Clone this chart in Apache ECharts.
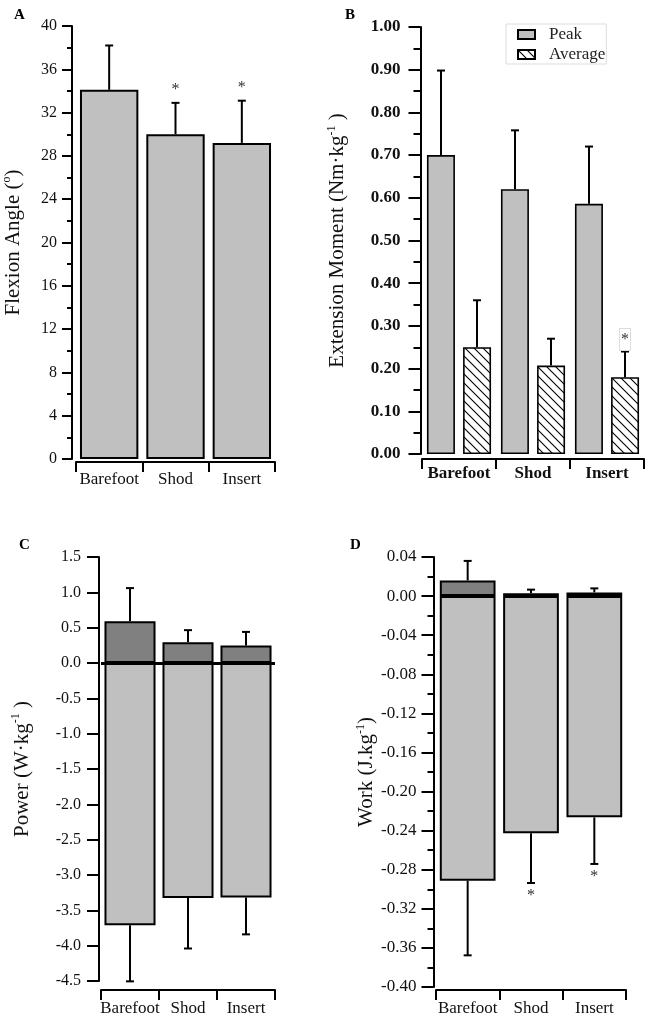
<!DOCTYPE html>
<html><head><meta charset="utf-8">
<script src="https://cdn.jsdelivr.net/npm/echarts@6/dist/echarts.min.js"></script>
<style>html,body{margin:0;padding:0;background:#fff}#c{width:648px;height:1017px}</style>
</head><body><div id="c"></div>
<script>
// ---------- data ----------
const categories = ['Barefoot', 'Shod', 'Insert'];

// A: flexion angle (deg)
const flexionMean = [34.1, 30.0, 29.2];
const flexionSD   = [4.1, 2.9, 3.9];
const flexionSig  = [0, 1, 1];
const flexionAxis = { min: 0, max: 40, interval: 4 };

// B: extension moment (Nm/kg)
const peakMean = [0.70, 0.62, 0.586];
const peakSD   = [0.198, 0.138, 0.134];
const avgMean  = [0.25, 0.207, 0.18];
const avgSD    = [0.11, 0.063, 0.06];
const avgSig   = [0, 0, 1];
const momentAxis = { min: 0, max: 1, interval: 0.1 };

// C: power (W/kg)
const powerPosMean = [0.59, 0.295, 0.247];
const powerPosSD   = [0.47, 0.17, 0.193];
const powerNegMean = [-3.71, -3.325, -3.32];
const powerNegSD   = [0.795, 0.715, 0.52];
const powerAxis = { min: -4.5, max: 1.5, interval: 0.5 };

// D: work (J/kg)
const workPosMean = [0.016, 0.003, 0.0038];
const workPosSD   = [0.020, 0.0036, 0.0041];
const workNegMean = [-0.2912, -0.2428, -0.2264];
const workNegSD   = [0.0764, 0.0508, 0.0477];
const workSig     = [0, 1, 1];
const workAxis = { min: -0.4, max: 0.04, interval: 0.04 };

// ---------- styles ----------
const SERIF = '"Liberation Serif", "Times New Roman", serif';
const INK = '#111';
const LIGHT = '#c0c0c0';
const DARK = '#808080';

function hatch() {
  const s = 9;
  const c = document.createElement('canvas');
  c.width = s; c.height = s;
  const g = c.getContext('2d');
  g.fillStyle = '#fff'; g.fillRect(0, 0, s, s);
  g.strokeStyle = '#000'; g.lineWidth = 1.1;
  g.beginPath();
  g.moveTo(-1, -1); g.lineTo(s + 1, s + 1);
  g.moveTo(-1, s - 1); g.lineTo(1, s + 1);
  g.moveTo(s - 1, -1); g.lineTo(s + 1, 1);
  g.stroke();
  return c;
}

function errData(mean, sd, dir, sig) {
  return mean.map((m, i) => [i, m, m + dir * sd[i], sig ? sig[i] : 0]);
}

function errRender(xOff, starDir, boxed) {
  return function (params, api) {
    const i = api.value(0);
    const p0 = api.coord([i, api.value(1)]);
    const p1 = api.coord([i, api.value(2)]);
    const x = p0[0] + xOff;
    const ls = { stroke: '#000', lineWidth: 2 };
    const children = [
      { type: 'line', shape: { x1: x, y1: p0[1], x2: x, y2: p1[1] }, style: ls },
      { type: 'line', shape: { x1: x - 4, y1: p1[1], x2: x + 4, y2: p1[1] }, style: ls }
    ];
    if (api.value(3)) {
      const st = { text: '*', fill: '#333', font: '16px ' + SERIF, align: 'center', verticalAlign: 'middle' };
      if (boxed) {
        st.backgroundColor = '#fff'; st.borderColor = '#ddd'; st.borderWidth = 1; st.padding = [4, 1, 1, 1];
      }
      children.push({ type: 'text', x: x, y: p1[1] + starDir * (boxed ? 12 : 13), style: st });
    }
    return { type: 'group', children };
  };
}

function catAxis(grid, offset, labelMargin, bold) {
  return {
    type: 'category', gridIndex: grid, data: categories, offset: offset,
    axisLine: { show: true, onZero: false, lineStyle: { color: '#000', width: 2 } },
    axisTick: { show: true, length: 10, lineStyle: { color: '#000', width: 2 } },
    axisLabel: { interval: 0, margin: labelMargin, color: INK, fontFamily: SERIF,
                 fontSize: 17, fontWeight: bold ? 'bold' : 'normal' },
    splitLine: { show: false }
  };
}

function valAxis(grid, ax, o) {
  return {
    type: 'value', gridIndex: grid, min: ax.min, max: ax.max, interval: ax.interval,
    offset: o.offset,
    name: o.name, nameLocation: 'middle', nameGap: o.nameGap,
    nameTextStyle: {
      fontFamily: SERIF, fontSize: 21, color: INK,
      rich: {
        n: { fontFamily: SERIF, fontSize: 21, color: INK, lineHeight: 24 },
        s: { fontFamily: SERIF, fontSize: 12, color: INK, lineHeight: 10, verticalAlign: 'top' }
      }
    },
    axisLine: { show: true, lineStyle: { color: '#000', width: 2 } },
    axisTick: { show: true, length: o.tick, lineStyle: { color: '#000', width: 2 } },
    minorTick: { show: !!o.minor, splitNumber: 2, length: o.minor || 0, lineStyle: { color: '#000', width: 2 } },
    axisLabel: { margin: o.margin, color: INK, fontFamily: SERIF, fontSize: o.fontSize,
                 fontWeight: o.bold ? 'bold' : 'normal', formatter: o.fmt },
    splitLine: { show: false }, minorSplitLine: { show: false }
  };
}

const barBase = { type: 'bar', z: 2 };

const option = {
  backgroundColor: '#fff',
  animation: false,
  title: [
    { text: 'A', left: 9, top: 3 },
    { text: 'B', left: 340, top: 3 },
    { text: 'C', left: 14, top: 533 },
    { text: 'D', left: 345, top: 533 }
  ].map(t => Object.assign(t, { textStyle: { fontFamily: SERIF, fontSize: 15, fontWeight: 'bold', color: '#000' } })),
  legend: {
    data: ['Peak', 'Average'], orient: 'vertical', left: 506, top: 24,
    icon: 'rect', itemWidth: 17, itemHeight: 9, itemGap: 3,
    borderColor: '#ddd', borderWidth: 1, padding: [2, 1, 1, 11],
    textStyle: { fontFamily: SERIF, fontSize: 17, color: '#222', padding: [0, 0, 0, 9] }
  },
  grid: [
    { left: 76, top: 26, width: 199, height: 433 },
    { left: 422, top: 27, width: 222, height: 427 },
    { left: 101, top: 557, width: 174, height: 424 },
    { left: 436, top: 557, width: 190, height: 430 }
  ].map(g => Object.assign(g, { containLabel: false, outerBoundsMode: 'none' })),
  xAxis: [
    catAxis(0, 3, 9, false),
    catAxis(1, 5, 6, true),
    catAxis(2, 9, 10, false),
    catAxis(3, 3, 10, false)
  ],
  yAxis: [
    valAxis(0, flexionAxis, { offset: 4, nameGap: 47, tick: 10, minor: 5, margin: 15, fontSize: 16,
      name: '{n|Flexion Angle (}{s|o}{n|)}', fmt: v => String(v) }),
    valAxis(1, momentAxis, { offset: 1.5, nameGap: 71, tick: 12, minor: 7, margin: 20, fontSize: 17, bold: true,
      name: '{n|Extension Moment (Nm·kg}{s|-1}{n| )}', fmt: v => v.toFixed(2) }),
    valAxis(2, powerAxis, { offset: 2, nameGap: 65, tick: 12, minor: 0, margin: 18, fontSize: 16,
      name: '{n|Power (W·kg}{s|-1}{n| )}', fmt: v => v.toFixed(1) }),
    valAxis(3, workAxis, { offset: 2.5, nameGap: 54, tick: 12, minor: 6, margin: 17, fontSize: 17,
      name: '{n|Work (J.kg}{s|-1}{n|)}', fmt: v => v.toFixed(2) })
  ],
  series: [
    // A
    Object.assign({}, barBase, { name: 'Flexion', xAxisIndex: 0, yAxisIndex: 0, data: flexionMean,
      barWidth: '88%', itemStyle: { color: LIGHT, borderColor: '#000', borderWidth: 2 } }),
    { type: 'custom', xAxisIndex: 0, yAxisIndex: 0, z: 5, renderItem: errRender(0, -1, false),
      data: errData(flexionMean, flexionSD, 1, flexionSig) },
    // B
    Object.assign({}, barBase, { name: 'Peak', xAxisIndex: 1, yAxisIndex: 1, data: peakMean,
      barWidth: 28, barGap: '29%', itemStyle: { color: LIGHT, borderColor: '#000', borderWidth: 1.6 } }),
    Object.assign({}, barBase, { name: 'Average', xAxisIndex: 1, yAxisIndex: 1, data: avgMean,
      barWidth: 28, barGap: '29%',
      itemStyle: { color: { image: hatch(), repeat: 'repeat' }, borderColor: '#000', borderWidth: 1.6 } }),
    { type: 'custom', xAxisIndex: 1, yAxisIndex: 1, z: 5, renderItem: errRender(-18, -1, true),
      data: errData(peakMean, peakSD, 1) },
    { type: 'custom', xAxisIndex: 1, yAxisIndex: 1, z: 5, renderItem: errRender(18, -1, true),
      data: errData(avgMean, avgSD, 1, avgSig) },
    // C
    Object.assign({}, barBase, { name: 'PowerNeg', xAxisIndex: 2, yAxisIndex: 2, data: powerNegMean,
      barWidth: '88%', barGap: '-100%', itemStyle: { color: LIGHT, borderColor: '#000', borderWidth: 2 } }),
    Object.assign({}, barBase, { name: 'PowerPos', xAxisIndex: 2, yAxisIndex: 2, data: powerPosMean,
      barWidth: '88%', barGap: '-100%', itemStyle: { color: DARK, borderColor: '#000', borderWidth: 2 },
      markLine: { silent: true, symbol: ['none', 'none'], label: { show: false }, z: 10,
        lineStyle: { color: '#000', width: 3, type: 'solid' }, data: [{ yAxis: 0 }] } }),
    { type: 'custom', xAxisIndex: 2, yAxisIndex: 2, z: 5, renderItem: errRender(0, 1, false),
      data: errData(powerNegMean, powerNegSD, -1) },
    { type: 'custom', xAxisIndex: 2, yAxisIndex: 2, z: 5, renderItem: errRender(0, -1, false),
      data: errData(powerPosMean, powerPosSD, 1) },
    // D
    Object.assign({}, barBase, { name: 'WorkNeg', xAxisIndex: 3, yAxisIndex: 3, data: workNegMean,
      barWidth: '88%', barGap: '-100%', itemStyle: { color: LIGHT, borderColor: '#000', borderWidth: 2 } }),
    Object.assign({}, barBase, { name: 'WorkPos', xAxisIndex: 3, yAxisIndex: 3, data: workPosMean,
      barWidth: '88%', barGap: '-100%', itemStyle: { color: DARK, borderColor: '#000', borderWidth: 2 } }),
    { type: 'custom', xAxisIndex: 3, yAxisIndex: 3, z: 5, renderItem: errRender(0, 1, false),
      data: errData(workNegMean, workNegSD, -1, workSig) },
    { type: 'custom', xAxisIndex: 3, yAxisIndex: 3, z: 5, renderItem: errRender(0, -1, false),
      data: errData(workPosMean, workPosSD, 1) }
  ]
};

const chart = echarts.init(document.getElementById('c'), null, { renderer: 'canvas' });
chart.setOption(option);
</script>
</body></html>
